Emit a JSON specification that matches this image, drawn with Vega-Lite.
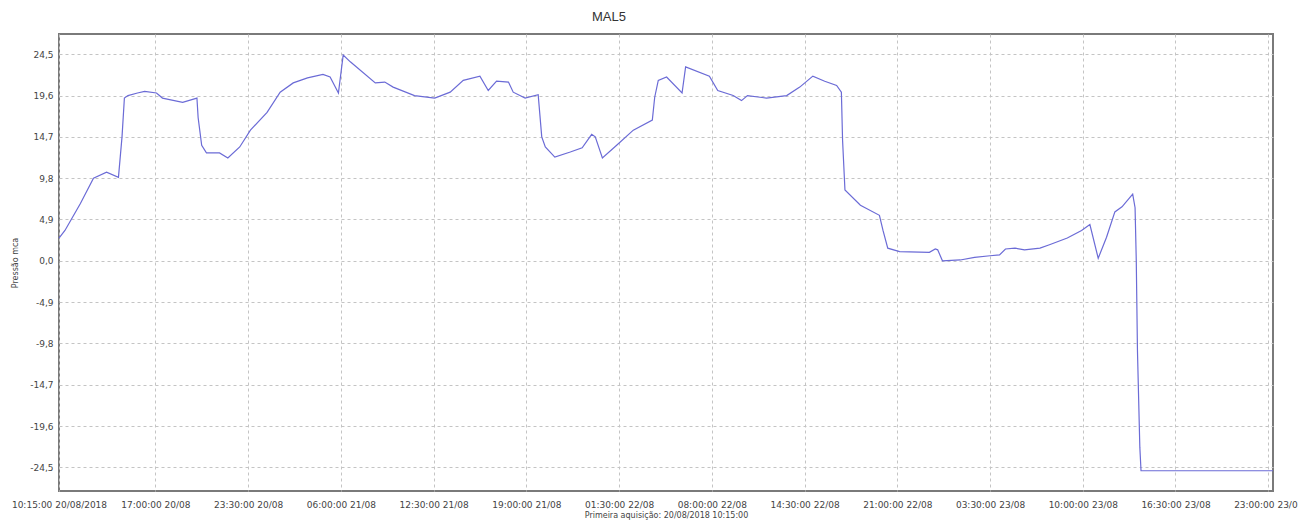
{
  "$schema": "https://vega.github.io/schema/vega-lite/v6.json",
  "width": 1214,
  "height": 457,
  "autosize": {"type": "none"},
  "padding": {"left": 59, "top": 34, "right": 25, "bottom": 30},
  "background": "white",
  "title": {"text": "MAL5", "font": "Liberation Sans", "fontSize": 13, "fontWeight": "normal", "color": "#333333", "anchor": "middle", "offset": 10, "dx": -57},
  "config": {
    "view": {"stroke": "#7a7a7a", "strokeWidth": 2},
    "axis": {"labelFont": "DejaVu Sans", "labelFontSize": 9, "labelColor": "#444444", "titleFont": "DejaVu Sans", "titleFontSize": 8, "titleFontWeight": "normal", "titleColor": "#444444", "gridColor": "#c4c4c4", "gridDash": [3, 3], "gridWidth": 1, "domain": false, "ticks": false}
  },
  "data": {"values": [
    {"t": "2018-08-20T10:15:00", "p": 2.7},
    {"t": "2018-08-20T10:40:00", "p": 3.6},
    {"t": "2018-08-20T11:45:00", "p": 6.8},
    {"t": "2018-08-20T12:40:00", "p": 9.8},
    {"t": "2018-08-20T13:35:00", "p": 10.5},
    {"t": "2018-08-20T14:25:00", "p": 9.9},
    {"t": "2018-08-20T14:40:00", "p": 14.7},
    {"t": "2018-08-20T14:50:00", "p": 19.3},
    {"t": "2018-08-20T15:05:00", "p": 19.6},
    {"t": "2018-08-20T15:45:00", "p": 19.9},
    {"t": "2018-08-20T16:15:00", "p": 20.1},
    {"t": "2018-08-20T17:05:00", "p": 19.9},
    {"t": "2018-08-20T17:30:00", "p": 19.3},
    {"t": "2018-08-20T18:55:00", "p": 18.8},
    {"t": "2018-08-20T19:55:00", "p": 19.3},
    {"t": "2018-08-20T20:00:00", "p": 17.0},
    {"t": "2018-08-20T20:15:00", "p": 13.7},
    {"t": "2018-08-20T20:35:00", "p": 12.8},
    {"t": "2018-08-20T21:30:00", "p": 12.8},
    {"t": "2018-08-20T22:05:00", "p": 12.2},
    {"t": "2018-08-20T22:55:00", "p": 13.5},
    {"t": "2018-08-20T23:40:00", "p": 15.5},
    {"t": "2018-08-21T00:50:00", "p": 17.6},
    {"t": "2018-08-21T01:45:00", "p": 20.0},
    {"t": "2018-08-21T02:40:00", "p": 21.1},
    {"t": "2018-08-21T03:40:00", "p": 21.7},
    {"t": "2018-08-21T04:45:00", "p": 22.1},
    {"t": "2018-08-21T05:15:00", "p": 21.8},
    {"t": "2018-08-21T05:50:00", "p": 19.9},
    {"t": "2018-08-21T06:10:00", "p": 24.4},
    {"t": "2018-08-21T06:40:00", "p": 23.6},
    {"t": "2018-08-21T08:25:00", "p": 21.1},
    {"t": "2018-08-21T09:05:00", "p": 21.2},
    {"t": "2018-08-21T09:40:00", "p": 20.6},
    {"t": "2018-08-21T11:10:00", "p": 19.6},
    {"t": "2018-08-21T12:35:00", "p": 19.3},
    {"t": "2018-08-21T13:40:00", "p": 20.0},
    {"t": "2018-08-21T14:35:00", "p": 21.4},
    {"t": "2018-08-21T15:45:00", "p": 21.9},
    {"t": "2018-08-21T16:20:00", "p": 20.2},
    {"t": "2018-08-21T16:55:00", "p": 21.3},
    {"t": "2018-08-21T17:45:00", "p": 21.2},
    {"t": "2018-08-21T18:05:00", "p": 20.0},
    {"t": "2018-08-21T18:55:00", "p": 19.3},
    {"t": "2018-08-21T19:50:00", "p": 19.7},
    {"t": "2018-08-21T20:05:00", "p": 14.7},
    {"t": "2018-08-21T20:20:00", "p": 13.5},
    {"t": "2018-08-21T21:00:00", "p": 12.3},
    {"t": "2018-08-21T22:05:00", "p": 12.9},
    {"t": "2018-08-21T22:55:00", "p": 13.4},
    {"t": "2018-08-21T23:35:00", "p": 15.0},
    {"t": "2018-08-21T23:50:00", "p": 14.7},
    {"t": "2018-08-22T00:20:00", "p": 12.2},
    {"t": "2018-08-22T01:20:00", "p": 13.7},
    {"t": "2018-08-22T02:30:00", "p": 15.5},
    {"t": "2018-08-22T03:50:00", "p": 16.7},
    {"t": "2018-08-22T04:00:00", "p": 19.4},
    {"t": "2018-08-22T04:15:00", "p": 21.4},
    {"t": "2018-08-22T04:50:00", "p": 21.8},
    {"t": "2018-08-22T05:55:00", "p": 19.9},
    {"t": "2018-08-22T06:10:00", "p": 23.0},
    {"t": "2018-08-22T07:50:00", "p": 21.9},
    {"t": "2018-08-22T08:25:00", "p": 20.2},
    {"t": "2018-08-22T09:30:00", "p": 19.6},
    {"t": "2018-08-22T10:05:00", "p": 19.0},
    {"t": "2018-08-22T10:30:00", "p": 19.6},
    {"t": "2018-08-22T11:50:00", "p": 19.3},
    {"t": "2018-08-22T13:15:00", "p": 19.6},
    {"t": "2018-08-22T14:10:00", "p": 20.6},
    {"t": "2018-08-22T15:05:00", "p": 21.9},
    {"t": "2018-08-22T15:55:00", "p": 21.3},
    {"t": "2018-08-22T16:45:00", "p": 20.8},
    {"t": "2018-08-22T17:05:00", "p": 20.0},
    {"t": "2018-08-22T17:10:00", "p": 14.3},
    {"t": "2018-08-22T17:20:00", "p": 8.4},
    {"t": "2018-08-22T18:25:00", "p": 6.6},
    {"t": "2018-08-22T19:45:00", "p": 5.4},
    {"t": "2018-08-22T20:00:00", "p": 3.6},
    {"t": "2018-08-22T20:20:00", "p": 1.5},
    {"t": "2018-08-22T21:10:00", "p": 1.1},
    {"t": "2018-08-22T23:15:00", "p": 1.0},
    {"t": "2018-08-22T23:40:00", "p": 1.4},
    {"t": "2018-08-22T23:50:00", "p": 1.3},
    {"t": "2018-08-23T00:10:00", "p": 0.0},
    {"t": "2018-08-23T01:25:00", "p": 0.1},
    {"t": "2018-08-23T02:25:00", "p": 0.4},
    {"t": "2018-08-23T03:30:00", "p": 0.6},
    {"t": "2018-08-23T04:10:00", "p": 0.7},
    {"t": "2018-08-23T04:35:00", "p": 1.4},
    {"t": "2018-08-23T05:15:00", "p": 1.5},
    {"t": "2018-08-23T05:55:00", "p": 1.3},
    {"t": "2018-08-23T07:00:00", "p": 1.5},
    {"t": "2018-08-23T07:40:00", "p": 1.9},
    {"t": "2018-08-23T08:55:00", "p": 2.7},
    {"t": "2018-08-23T09:55:00", "p": 3.6},
    {"t": "2018-08-23T10:30:00", "p": 4.3},
    {"t": "2018-08-23T11:05:00", "p": 0.3},
    {"t": "2018-08-23T11:40:00", "p": 2.8},
    {"t": "2018-08-23T12:15:00", "p": 5.8},
    {"t": "2018-08-23T12:45:00", "p": 6.4},
    {"t": "2018-08-23T13:30:00", "p": 7.9},
    {"t": "2018-08-23T13:40:00", "p": 6.3},
    {"t": "2018-08-23T13:45:00", "p": 0.1},
    {"t": "2018-08-23T13:50:00", "p": -10.6},
    {"t": "2018-08-23T14:00:00", "p": -22.1},
    {"t": "2018-08-23T14:05:00", "p": -24.9},
    {"t": "2018-08-23T23:20:00", "p": -24.9}
  ]},
  "mark": {"type": "line", "color": "#6b6bd6", "strokeWidth": 1.2, "interpolate": "linear"},
  "encoding": {
    "x": {
      "field": "t", "type": "temporal",
      "scale": {"domain": [{"year": 2018, "month": 8, "date": 20, "hours": 10, "minutes": 15}, {"year": 2018, "month": 8, "date": 23, "hours": 23, "minutes": 20}], "nice": false},
      "axis": {
        "title": "Primeira aquisição: 20/08/2018 10:15:00",
        "titlePadding": 2,
        "labelPadding": 9,
        "labelOverlap": false,
        "labelBound": false,
        "labelFlush": false,
        "values": [
          {"year": 2018, "month": 8, "date": 20, "hours": 10, "minutes": 15},
          {"year": 2018, "month": 8, "date": 20, "hours": 17, "minutes": 0},
          {"year": 2018, "month": 8, "date": 20, "hours": 23, "minutes": 30},
          {"year": 2018, "month": 8, "date": 21, "hours": 6, "minutes": 0},
          {"year": 2018, "month": 8, "date": 21, "hours": 12, "minutes": 30},
          {"year": 2018, "month": 8, "date": 21, "hours": 19, "minutes": 0},
          {"year": 2018, "month": 8, "date": 22, "hours": 1, "minutes": 30},
          {"year": 2018, "month": 8, "date": 22, "hours": 8, "minutes": 0},
          {"year": 2018, "month": 8, "date": 22, "hours": 14, "minutes": 30},
          {"year": 2018, "month": 8, "date": 22, "hours": 21, "minutes": 0},
          {"year": 2018, "month": 8, "date": 23, "hours": 3, "minutes": 30},
          {"year": 2018, "month": 8, "date": 23, "hours": 10, "minutes": 0},
          {"year": 2018, "month": 8, "date": 23, "hours": 16, "minutes": 30},
          {"year": 2018, "month": 8, "date": 23, "hours": 23, "minutes": 0}
        ],
        "labelExpr": "datum.index === 0 ? timeFormat(datum.value, '%H:%M:%S %d/%m/%Y') : timeFormat(datum.value, '%H:%M:%S %d/%m')"
      }
    },
    "y": {
      "field": "p", "type": "quantitative",
      "scale": {"domain": [-27.3, 26.9], "nice": false, "zero": false},
      "axis": {
        "title": "Pressão mca",
        "titlePadding": 10,
        "labelPadding": 6,
        "values": [-24.5, -19.6, -14.7, -9.8, -4.9, 0, 4.9, 9.8, 14.7, 19.6, 24.5],
        "labelExpr": "replace(replace(format(datum.value, '.1f'), '.', ','), '\u2212', '-')"
      }
    }
  }
}
